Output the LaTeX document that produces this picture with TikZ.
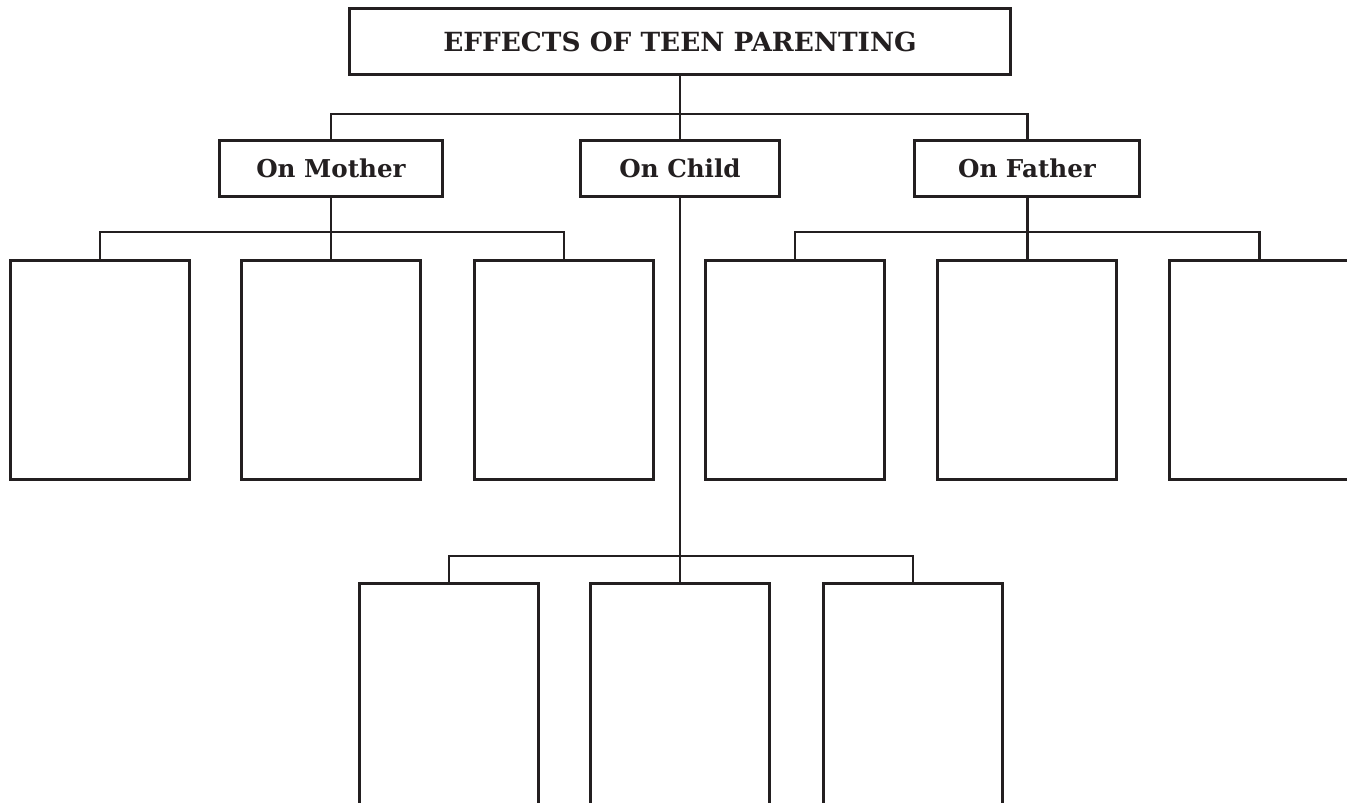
\documentclass[tikz,border=0pt]{standalone}
\usepackage{fontspec}
\setmainfont{DejaVu Serif}
\usepackage{xcolor}
\definecolor{ink}{HTML}{231F20}
\tikzset{
  chartbox/.style={draw=ink,text=ink,line width=1.7pt,inner sep=0pt,font=\bfseries\fontsize{14}{16}\selectfont},
  titlebox/.style={chartbox,minimum width=13.22cm,minimum height=1.32cm,font=\bfseries\fontsize{15}{17}\selectfont},
  headbox/.style={chartbox,minimum height=1.12cm},
  blankbox/.style={chartbox,minimum width=3.58cm,minimum height=4.38cm},
  link/.style={draw=ink,line width=1.7pt}
}

\begin{document}
\begin{tikzpicture}[x=0.02cm,y=-0.02cm]
        % page frame
        \useasboundingbox (0,0) rectangle (1347,803);
        \clip (0,0) rectangle (1347,803);
        % draw headings
        \node[titlebox] (title) at (680,41.5) {EFFECTS OF TEEN PARENTING};
        \node[headbox,minimum width=4.46cm] (mother) at (331,168.5) {On Mother};
        \node[headbox,minimum width=4.0cm] (child) at (680,168.5) {On Child};
        \node[headbox,minimum width=4.5cm] (father) at (1027,168.5) {On Father};
        % draw blank boxes
        \foreach \x [count=\i] in {100,331,564}
        \node[blankbox] (m\i) at (\x,370) {};
        \foreach \x [count=\i] in {795,1027,1259}
        \node[blankbox] (f\i) at (\x,370) {};
        \foreach \x [count=\i] in {449,680,913}
        \node[blankbox,minimum height=5cm] (c\i) at (\x,708.5) {};
        % draw connectors
        \coordinate (top bus) at (680,114);
        \coordinate (mother bus) at (331,232);
        \coordinate (father bus) at (1027,232);
        \coordinate (child bus) at (680,556);
        \draw[link] (title.south) -- (child.north);
        \draw[link] (mother.north) |- (top bus) -| (father.north);
        \draw[link] (mother.south) -- (m2.north);
        \draw[link] (m1.north) |- (mother bus) -| (m3.north);
        \draw[link] (father.south) -- (f2.north);
        \draw[link] (f1.north) |- (father bus) -| (f3.north);
        \draw[link] (child.south) -- (c2.north);
        \draw[link] (c1.north) |- (child bus) -| (c3.north);
\end{tikzpicture}
\end{document}
